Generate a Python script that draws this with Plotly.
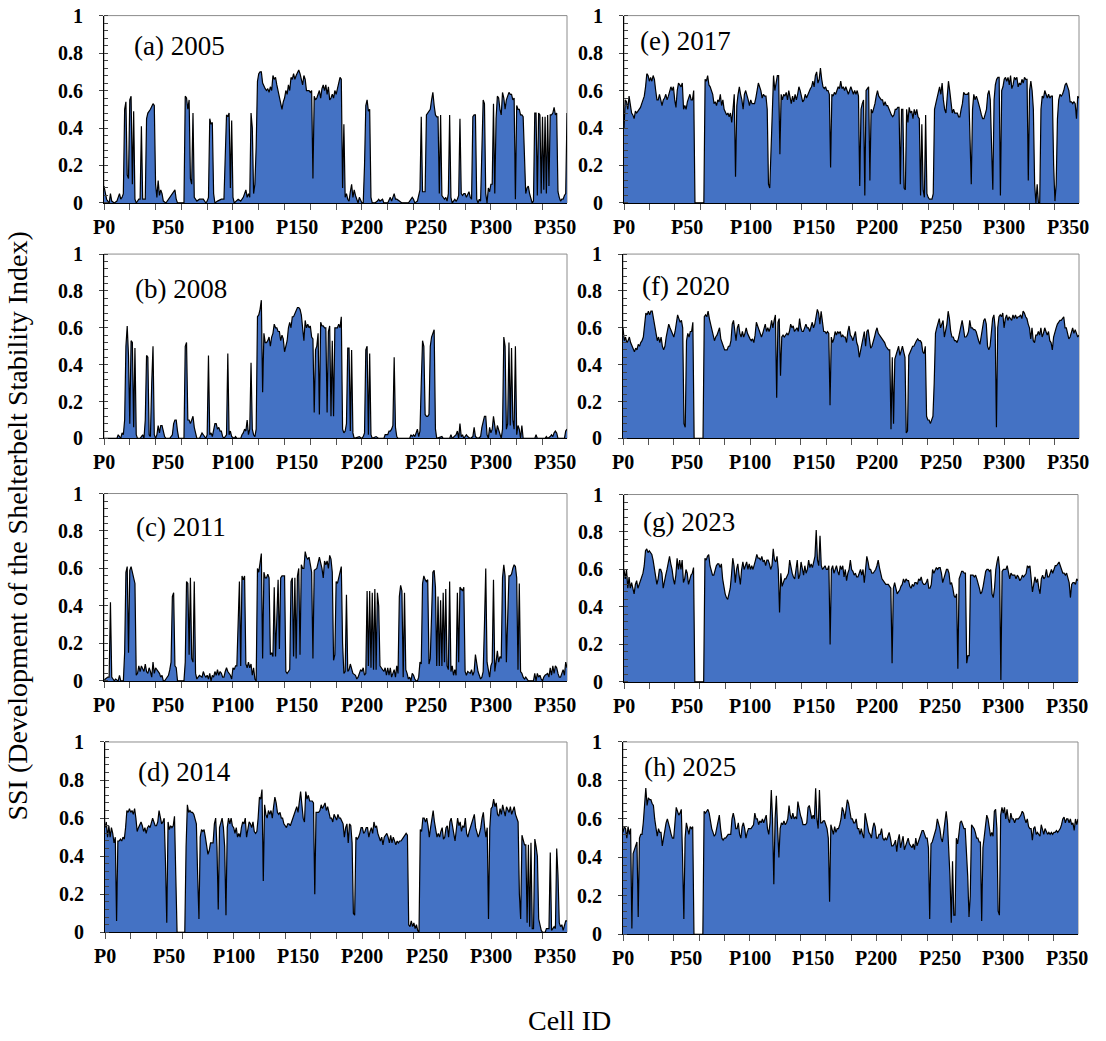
import plotly.graph_objects as go

# ---------------- data ----------------
cell_ids = list(range(360))
tick_cells = [0, 50, 100, 150, 200, 250, 300, 350]
tick_labels = ["P0", "P50", "P100", "P150", "P200", "P250", "P300", "P350"]
y_tickvals = [0, 0.2, 0.4, 0.6, 0.8, 1]
y_ticktext = ["0", "0.2", "0.4", "0.6", "0.8", "1"]
panel_labels = ["(a) 2005", "(b) 2008", "(c) 2011", "(d) 2014",
                "(e) 2017", "(f) 2020", "(g) 2023", "(h) 2025"]

# (cell, SSI) pairs for the sparse early years
ssi_2005 = [(0,.09),(1,.05),(2,.02),(4,0),(5,.05),(6,.01),(8,0),(10,.01),(12,.05),(13,.02),(14,.03),(15,.05),(16,.5),(17,.54),(18,.15),(19,.13),(20,.55),(21,.57),(22,.1),(23,.49),(24,.02),(25,0),(27,.02),(28,.02),(29,.41),(30,.02),(32,.02),(33,.45),(34,.48),(36,.5),(38,.53),(39,.52),(40,.1),(41,.03),(42,.12),(43,.04),(44,.07),(45,.05),(46,.01),(48,0),(51,.03),(53,.05),(55,.07),(56,.02),(57,0),(62,0),(63,.57),(64,.56),(65,.5),(66,.55),(67,.13),(68,.1),(69,.48),(70,.03),(72,.01),(74,.02),(77,.02),(79,0),(80,.01),(81,.03),(82,.45),(83,.42),(84,.43),(85,.05),(86,0),(88,.01),(91,.02),(93,.02),(94,.25),(95,.47),(96,.46),(97,.48),(98,.08),(99,.44),(100,.03),(101,0),(104,.02),(106,.01),(108,.03),(110,.07),(111,.03),(112,.05),(113,.03),(114,.48),(115,.4),(116,.05),(117,.1),(118,.3),
            (119,.65),(120,.69),(121,.7),(122,.7),(123,.64),(124,.62),(125,.61),(126,.6),(127,.61),(128,.59),(129,.62),(130,.6),(131,.68),(132,.66),(133,.67),(134,.63),(135,.6),(136,.56),(137,.54),(138,.5),(139,.54),(140,.56),(141,.6),(142,.58),(143,.63),(144,.6),(145,.67),(146,.66),(147,.69),(148,.66),(149,.68),(150,.7),(151,.71),(152,.69),
            (154,.63),(155,.68),(156,.66),(157,.6),(158,.6),(159,.6),(160,.59),(161,.6),(162,.13),(163,.57),(164,.55),(165,.56),(166,.58),(167,.6),(168,.56),(169,.61),(170,.63),(171,.6),(172,.63),(173,.58),(174,.62),(175,.55),(176,.56),(177,.58),(178,.56),(179,.6),(180,.58),(181,.62),(182,.64),(183,.67),(184,.66),(185,.08),(186,.42),(187,.03),
            (188,.05),(189,.02),(190,.01),(191,.06),(192,.1),(193,.03),(194,.07),(195,.04),(196,.02),(197,0),(198,.03),(199,.01),(200,0),(201,0),(202,.2),(203,.52),(204,.55),(205,.49),(206,.5),(207,.03),(208,0),(210,0),(212,.01),(213,.02),(214,.01),(216,.02),(217,0),(220,0),(221,.02),(222,.03),(223,.01),(224,.03),(225,.05),(226,.02),(227,.02),(229,.01),(231,0),(236,0),(238,.02),(239,.03),(240,.02),(241,0),(243,.01),(244,.04),(245,.07),(246,.46),(247,.06),(248,.06),(249,.06),(250,.47),(251,.48),(252,.49),(253,.5),(254,.55),(255,.59),(256,.52),(257,.47),(258,.46),(259,.46),(260,.05),(261,.47),(262,.04),(263,.03),(264,.02),(265,.03),(266,.01),(267,.05),(268,.47),(269,.03),(270,0),(271,.01),(272,.02),(273,.01),(274,.02),(275,.04),(276,.45),(277,.05),(278,.04),(279,.05),(280,.05),(281,.03),(282,.05),(283,.06),(284,.03),(285,.02),(286,.46),(287,.47),(288,.47),(289,.02),(290,0),(291,.02),(292,.01),(293,.3),(294,.55),(295,.53),(296,.05),(297,0),(298,.08),(299,.06),(300,.1),(301,.1),(302,.53),(303,.05),(304,.45),(305,.57),(306,.56),(307,.5),(308,.47),(309,.59),(310,.56),(311,.5),(312,.55),(313,.57),(314,.59),(315,.58),(316,.58),(317,.55),(318,.56),(319,.02),(320,.52),(321,.5),(322,.5),(323,.47),(324,.47),(325,.46),(326,.2),(327,.05),(328,.08),(329,.09),(330,.05),(331,.02),(332,0),(333,.01),(334,.48),(335,.48),(336,.04),(337,.48),(338,.47),(339,.05),(340,.46),(341,.07),(342,.46),(343,.05),(344,.47),(345,.09),(346,.47),(347,.47),(348,.48),(349,.51),(350,.47),(351,.48),(352,.06),(353,.03),(354,.01),(355,.02),(356,.02),(357,.04),(358,.05),(359,.48)]

ssi_2008 = [(0,0),(10,0),(11,.02),(12,.01),(13,0),(14,.03),(15,.02),(16,.1),(17,.5),(18,.61),(19,.45),(20,.08),(21,.53),(22,.52),(23,.06),(24,.49),(25,.02),(26,0),(28,0),(29,.01),(30,.02),(31,0),(32,.1),(33,.45),(34,.44),(35,.02),(36,.01),(37,.3),(38,.5),(39,.02),(40,0),(41,.02),(42,.07),(43,.03),(44,.07),(45,.07),(46,.04),(47,.01),(48,0),(51,0),(53,.02),(54,.08),(55,.1),(56,.1),(57,.04),(58,0),(62,0),(63,.5),(64,.52),(65,.1),(66,.1),(67,.08),(68,.1),(69,.12),(70,.06),(71,.02),(72,0),(74,0),(75,.02),(76,.03),(77,.02),(78,.01),(79,0),(80,.02),(81,.45),(82,.02),(83,.03),(84,.01),(85,.05),(86,.08),(87,.08),(88,.05),(89,.06),(90,.04),(91,.04),(92,.01),(93,0),(95,.02),(96,.46),(97,.02),(98,.04),(99,.01),(101,0),(102,.01),(103,0),(106,0),(107,.02),(108,.03),(109,.05),(110,.04),(111,.1),(112,.02),(113,.05),(114,.41),(115,.05),(116,.02),(117,.01),(118,.05),(119,.66),(120,.67),(121,.7),(122,.75),(123,.25),(124,.57),(125,.52),(126,.52),(127,.53),(128,.55),(129,.5),(130,.55),(131,.57),(132,.62),(133,.6),(134,.6),(135,.58),(136,.58),(137,.53),(138,.56),(139,.54),(140,.47),(141,.5),(142,.53),(143,.6),(144,.63),(145,.6),(146,.66),(147,.66),(148,.68),(149,.7),(150,.71),(151,.71),(152,.7),(153,.67),(154,.61),(155,.53),(156,.64),(157,.6),(158,.62),(159,.6),(160,.61),(161,.55),(162,.54),(163,.14),(164,.48),(165,.5),(166,.57),(167,.13),(168,.63),(169,.61),(170,.61),(171,.6),(172,.6),(173,.14),(174,.58),(175,.61),(176,.12),(177,.53),(178,.12),(179,.6),(180,.6),(181,.6),(182,.62),(183,.6),(184,.66),(185,.05),(186,.03),(187,.04),(188,.08),(189,.49),(190,.49),(191,.04),(192,.48),(193,.03),(194,0),(198,.01),(200,0),(201,.01),(202,.03),(203,.48),(204,.5),(205,.02),(206,.46),(207,.02),(208,0),(211,.01),(213,0),(217,0),(218,.02),(219,.02),(220,.02),(221,.04),(222,.04),(223,.05),(224,.07),(225,.44),(226,.06),(227,.01),(228,0),(237,0),(238,.02),(239,.01),(240,.02),(241,.01),(242,.03),(243,.05),(244,.01),(245,.04),(246,.3),(247,.53),(248,.5),(249,.13),(250,.12),(251,.12),(252,.13),(253,.5),(254,.55),(255,.57),(256,.59),(257,.05),(258,0),(262,.01),(263,0),(268,0),(269,.02),(270,0),(273,.02),(274,.04),(275,0),(276,.08),(277,.01),(278,.02),(279,0),(281,.02),(282,.01),(284,0),(286,.01),(287,.06),(288,.01),(290,0),(292,.01),(293,.06),(294,.1),(295,.12),(296,.12),(297,.02),(298,0),(299,.06),(300,.03),(301,.05),(302,.12),(303,.05),(304,.02),(305,.07),(306,.05),(307,.02),(308,0),(309,.05),(310,.55),(311,.5),(312,.05),(313,.08),(314,.52),(315,.07),(316,.49),(317,.1),(318,.05),(319,.5),(320,.02),(321,.07),(322,.05),(323,0),(324,.07),(325,0),(334,0),(335,.02),(336,0),(342,0),(343,.01),(344,0),(346,.01),(347,.02),(348,.01),(349,.03),(350,.04),(351,.03),(352,0),(357,0),(358,.04),(359,.05)]

ssi_2011 = [(0,0),(1,.01),(3,.02),(4,.02),(5,.42),(6,.02),(7,.01),(8,0),(9,.01),(11,0),(12,.03),(13,0),(15,0),(16,.15),(17,.58),(18,.61),(19,.15),(20,.59),(21,.61),(22,.58),(23,.55),(24,.52),(25,.03),(26,.04),(27,.08),(28,.05),(29,.08),(31,.05),(32,.09),(33,.05),(34,.04),(35,.07),(36,.05),(37,.02),(38,.1),(39,.04),(40,.07),(41,.06),(42,.05),(43,.04),(44,.02),(45,.03),(46,0),(47,0),(48,.01),(49,.02),(50,.03),(51,.06),(52,.1),(53,.45),(54,.47),(55,.08),(56,.07),(57,0),(62,0),(63,.1),(64,.53),(65,.52),(66,.14),(67,.55),(68,.12),(69,.1),(70,.53),(71,.04),(72,.01),(73,.02),(74,.03),
            (76,.02),(77,.05),(78,.03),(79,.02),(80,.03),(81,.01),(82,.04),(83,0),(84,.03),(85,.02),(86,.05),(87,.03),(88,.06),(89,.03),(90,.05),(91,.04),(92,.02),(93,.02),(94,.05),(95,.07),(96,.05),(97,.04),(98,.03),(99,.01),(100,.07),(101,.06),(102,.08),(103,.08),
            (105,.53),(106,.08),(107,.56),(108,.54),(109,.56),(110,.09),(111,.07),(112,.1),(113,.07),(114,.09),(115,.03),(116,.07),(117,.01),(118,0),(119,.6),(120,.58),(121,.65),(122,.68),(123,.12),(124,.58),(125,.55),(126,.55),(127,.57),(128,.55),(129,.14),(130,.15),(131,.13),(132,.5),(133,.13),
            (135,.54),(136,.17),(137,.55),(138,.56),(139,.56),(140,.56),(141,.05),(142,.04),(143,.05),(144,.06),(145,.53),(146,.55),(147,.13),(148,.55),(149,.12),(150,.56),(151,.6),(152,.14),(153,.62),(154,.6),(155,.6),(156,.69),(157,.66),(158,.65),(159,.66),(160,.61),(161,.58),(162,.12),(163,.59),
            (165,.6),(166,.63),(167,.66),(168,.63),(169,.6),(170,.55),(171,.64),(172,.62),(173,.64),(174,.6),(175,.67),(176,.65),(177,.58),(178,.11),(179,.14),(180,.53),(181,.52),(182,.55),(183,.58),(184,.61),(185,.2),(186,.04),(187,.05),(188,.46),(189,.05),(190,.06),(191,.09),(192,.07),(193,.04),
            (195,.03),(196,.01),(197,.02),(198,.04),(199,.06),(200,.05),(201,.07),(202,.03),(203,.04),(204,.48),(205,.08),(206,.48),(207,.07),(208,.47),(209,.06),(210,.49),(211,.06),(212,.47),(213,.4),(214,.08),(215,.07),(216,.06),(217,.05),(218,.07),(219,.03),(220,.07),(221,.03),(222,.07),(223,.02),
            (225,.06),(226,.02),(227,.08),(228,.04),(229,.45),(230,.51),(231,.48),(232,.02),(233,.47),(234,.06),(235,.04),(236,.01),(237,.02),(238,0),(239,.04),(240,.03),(241,.01),(242,0),(243,0),(244,.02),(245,.1),(246,.09),(247,.52),(248,.56),(249,.54),(250,.53),(251,.54),(252,.09),(253,.12),
            (255,.58),(256,.59),(257,.5),(258,.08),(259,.45),(260,.08),(261,.43),(262,.08),(263,.47),(264,.1),(265,.49),(266,.08),(267,.06),(268,.53),(269,.05),(270,.08),(271,.03),(272,.06),(273,.03),(274,.47),(275,.1),(276,.5),(277,.49),(278,.48),(279,.5),(280,.05),(281,.03),(282,.05),
            (284,.04),(285,.06),(286,.03),(287,.05),(288,.14),(289,.08),(290,.05),(291,.03),(292,.01),(293,.02),(294,.05),(295,.3),(296,.6),(297,.1),(298,.05),(299,.02),(300,.08),(301,.1),(302,.54),(303,.05),(304,.1),(305,.16),(306,.1),(307,.13),(308,.12),(309,.55),(310,.62),(311,.56),(312,.1),
            (314,.56),(315,.56),(316,.57),(317,.6),(318,.62),(319,.61),(320,.55),(321,.06),(322,.52),(323,.05),(324,.04),(325,.02),(326,.01),(327,.02),(328,.01),(329,0),(333,0),(334,.04),(335,0),(336,.04),(337,.02),(338,.03),(339,.01),(340,0),(341,.02),(342,.03),
            (344,.04),(345,.02),(346,.07),(347,.03),(348,.08),(349,.04),(350,.08),(351,.07),(352,.04),(353,.02),(354,.02),(355,.04),(356,.06),(357,.03),(358,.1),(359,.07)]

# one value per cell P0..P359 for the later years
ssi_2014 = [
 .55,.58,.5,.56,.5,.55,.52,.47,.5,.06,
 .48,.48,.49,.48,.5,.49,.55,.64,.63,.65,
 .63,.64,.62,.65,.6,.53,.55,.57,.58,.56,
 .53,.55,.52,.55,.56,.55,.58,.6,.58,.56,
 .56,.58,.64,.6,.57,.58,.6,.37,.05,.58,
 .54,.56,.55,.56,.61,.3,0,0,0,0,
 0,0,0,.45,.67,.63,.64,.63,.63,.62,
 .6,.57,.3,.07,.5,.54,.53,.54,.5,.45,
 .41,.43,.47,.47,.47,.57,.6,.45,.12,.55,
 .58,.6,.55,.45,.09,.55,.6,.57,.6,.56,
 .55,.52,.55,.5,.52,.5,.55,.58,.57,.6,
 .5,.55,.58,.57,.55,.58,.53,.52,.53,.6,
 .71,.7,.75,.27,.67,.62,.6,.64,.62,.64,
 .6,.66,.71,.68,.63,.62,.63,.6,.6,.57,
 .56,.55,.57,.57,.56,.58,.6,.62,.64,.66,
 .63,.68,.74,.67,.6,.58,.74,.7,.72,.69,
 .69,.69,.68,.2,.63,.63,.63,.64,.67,.65,
 .67,.68,.64,.66,.63,.6,.6,.58,.62,.6,
 .59,.62,.6,.6,.58,.57,.5,.55,.57,.47,
 .57,.56,.47,.1,.09,.5,.49,.5,.52,.55,
 .55,.52,.53,.55,.55,.5,.53,.55,.52,.58,
 .55,.56,.52,.5,.48,.5,.46,.5,.51,.52,
 .5,.47,.51,.47,.5,.48,.46,.48,.47,.48,
 .48,.49,.5,.51,.52,.51,.04,.03,.06,.03,
 .05,.02,.04,.01,0,.54,.53,.6,.6,.58,
 .6,.56,.5,.55,.6,.64,.58,.53,.5,.52,
 .5,.53,.55,.49,.5,.55,.56,.5,.58,.6,
 .55,.52,.48,.55,.6,.56,.58,.53,.56,.55,
 .6,.52,.5,.53,.55,.58,.6,.62,.55,.53,
 .5,.52,.55,.6,.63,.55,.5,.55,.07,.55,
 .65,.66,.7,.66,.68,.62,.61,.65,.62,.67,
 .63,.61,.66,.64,.63,.66,.62,.64,.66,.62,
 .6,.58,.2,.07,.51,.48,.46,.46,.05,.46,
 .03,.47,.02,.02,.49,.45,.4,.07,.04,.01,
 0,0,0,.02,.02,.02,.42,.01,.02,.03,
 .02,.44,.3,.05,.03,.04,.01,.03,.06,.06]

ssi_2017 = [
 .4,.55,.54,.5,.57,.53,.48,.47,.45,.49,
 .48,.49,.5,.51,.53,.55,.57,.62,.69,.68,
 .65,.67,.65,.68,.66,.6,.55,.55,.58,.55,
 .52,.55,.56,.58,.55,.57,.6,.62,.6,.62,
 .55,.51,.6,.64,.63,.62,.64,.5,.52,.5,
 .54,.56,.58,.55,.55,.6,0,0,0,0,
 0,0,0,0,.66,.65,.68,.63,.62,.6,
 .58,.53,.54,.52,.55,.54,.58,.52,.55,.5,
 .48,.47,.48,.46,.48,.43,.5,.58,.14,.52,
 .58,.62,.58,.55,.5,.58,.6,.58,.55,.52,
 .55,.53,.53,.53,.56,.6,.64,.62,.6,.56,
 .58,.57,.57,.5,.1,.08,.3,.59,.68,.6,
 .64,.68,.68,.26,.58,.55,.58,.57,.59,.55,
 .6,.57,.53,.57,.54,.58,.55,.58,.62,.6,
 .56,.54,.55,.58,.56,.58,.6,.61,.62,.65,
 .62,.68,.7,.64,.66,.72,.66,.62,.61,.62,
 .6,.6,.58,.19,.58,.57,.59,.58,.6,.62,
 .61,.65,.61,.62,.6,.62,.6,.58,.6,.62,
 .6,.58,.6,.58,.6,.57,.09,.5,.53,.55,
 .04,.6,.61,.62,.12,.5,.48,.5,.53,.57,
 .6,.57,.56,.55,.55,.52,.54,.52,.52,.5,
 .48,.47,.46,.47,.5,.5,.51,.51,.1,.5,
 .5,.08,.07,.5,.43,.51,.48,.49,.45,.5,
 .47,.5,.46,.45,.04,.42,.07,.03,.47,.05,
 .03,.02,.02,.02,.05,.5,.53,.56,.6,.62,
 .58,.64,.55,.5,.48,.56,.65,.6,.52,.48,
 .5,.48,.48,.48,.46,.46,.5,.53,.59,.58,
 .58,.58,.59,.3,.1,.5,.58,.55,.57,.55,
 .53,.5,.47,.45,.45,.47,.5,.58,.6,.55,
 .3,.07,.55,.63,.66,.67,.67,.04,.6,.62,
 .66,.67,.65,.67,.63,.68,.61,.63,.67,.66,
 .67,.62,.64,.63,.66,.64,.67,.66,.66,.12,
 .6,.65,.6,.5,.1,0,.1,0,0,.5,
 .57,.56,.6,.58,.56,.58,.56,.57,.57,.2,
 .01,.1,.45,.55,.58,.57,.58,.6,.63,.64,
 .62,.6,.54,.54,.53,.54,.53,.45,.57,.56]

ssi_2020 = [
 .6,.53,.55,.52,.53,.55,.52,.5,.48,.47,
 .49,.48,.51,.5,.52,.53,.55,.62,.68,.67,
 .69,.67,.69,.69,.65,.6,.57,.53,.55,.52,
 .55,.5,.48,.5,.55,.58,.62,.6,.58,.56,
 .55,.58,.62,.67,.65,.63,.64,.6,.08,.06,
 .53,.57,.55,.58,.58,.63,0,0,0,0,
 0,0,0,0,.66,.67,.66,.69,.65,.62,
 .6,.56,.53,.55,.56,.58,.6,.54,.52,.5,
 .48,.48,.48,.5,.5,.53,.62,.64,.57,.53,
 .6,.62,.57,.55,.58,.55,.57,.6,.57,.55,
 .54,.53,.54,.52,.56,.63,.61,.6,.58,.55,
 .57,.6,.62,.58,.6,.58,.6,.64,.6,.64,
 .67,.22,.63,.65,.34,.55,.56,.55,.56,.57,
 .56,.58,.62,.6,.61,.58,.59,.6,.58,.65,
 .6,.58,.58,.6,.62,.6,.6,.58,.6,.63,
 .6,.62,.66,.7,.68,.62,.69,.62,.58,.58,
 .57,.58,.57,.18,.55,.52,.54,.58,.56,.58,
 .57,.58,.55,.56,.55,.55,.52,.58,.61,.56,
 .55,.53,.55,.58,.52,.5,.44,.48,.52,.55,
 .58,.5,.58,.59,.52,.49,.5,.52,.55,.58,
 .6,.57,.56,.55,.54,.53,.52,.5,.49,.48,
 .48,.05,.44,.08,.43,.45,.47,.5,.45,.48,
 .5,.47,.44,.03,.04,.45,.47,.48,.5,.5,
 .52,.53,.54,.53,.53,.52,.47,.46,.5,.12,
 .1,.1,.08,.1,.12,.3,.57,.6,.63,.65,
 .6,.62,.64,.55,.58,.62,.69,.65,.58,.55,
 .55,.53,.53,.52,.54,.58,.62,.64,.6,.55,
 .55,.56,.58,.64,.6,.6,.59,.59,.58,.55,
 .53,.51,.55,.6,.64,.65,.62,.5,.48,.5,
 .6,.65,.67,.6,.06,.6,.66,.67,.66,.68,
 .6,.65,.67,.64,.66,.65,.64,.67,.65,.67,
 .65,.66,.66,.67,.65,.69,.68,.66,.65,.62,
 .6,.54,.6,.53,.52,.56,.56,.58,.56,.6,
 .55,.57,.6,.58,.56,.58,.53,.52,.48,.55,
 .58,.6,.62,.63,.64,.64,.65,.66,.6,.6,
 .57,.54,.55,.58,.6,.57,.59,.57,.55,.56]

ssi_2023 = [
 .6,.55,.6,.5,.56,.5,.53,.5,.47,.52,
 .54,.5,.52,.53,.55,.58,.62,.7,.71,.69,
 .7,.69,.68,.65,.6,.57,.52,.55,.6,.6,
 .58,.5,.55,.57,.6,.63,.67,.63,.6,.55,
 .52,.57,.66,.6,.65,.6,.65,.53,.55,.6,
 .58,.52,.55,.57,.58,.61,0,0,0,0,
 0,0,0,0,.66,.65,.67,.68,.62,.6,
 .57,.57,.6,.62,.63,.63,.61,.63,.55,.5,
 .47,.45,.44,.47,.5,.57,.66,.62,.53,.6,
 .63,.57,.52,.6,.64,.6,.62,.64,.6,.63,
 .6,.62,.6,.62,.65,.68,.66,.66,.65,.67,
 .64,.65,.62,.65,.65,.63,.6,.62,.71,.65,
 .64,.67,.6,.37,.58,.51,.53,.55,.55,.57,
 .58,.65,.6,.58,.56,.55,.6,.65,.55,.57,
 .64,.6,.57,.62,.58,.6,.65,.61,.63,.61,
 .64,.67,.81,.65,.62,.78,.62,.6,.61,.62,
 .6,.6,.62,.2,.6,.62,.58,.6,.62,.59,
 .57,.62,.6,.62,.56,.6,.54,.58,.6,.65,
 .6,.59,.57,.58,.56,.56,.58,.6,.57,.6,
 .53,.62,.67,.64,.6,.6,.58,.58,.59,.6,
 .62,.65,.61,.58,.55,.54,.53,.52,.52,.52,
 .51,.5,.1,.5,.53,.5,.47,.48,.49,.51,
 .52,.55,.53,.55,.54,.54,.51,.5,.52,.51,
 .53,.53,.52,.55,.54,.56,.53,.52,.52,.53,
 .55,.5,.5,.52,.6,.58,.6,.61,.6,.61,
 .61,.58,.53,.55,.57,.6,.6,.58,.52,.53,
 .5,.46,.45,.47,.07,.55,.57,.59,.59,.58,
 .58,.1,.14,.14,.57,.57,.57,.56,.57,.55,
 .53,.5,.47,.48,.51,.55,.59,.6,.6,.59,
 .6,.47,.45,.5,.6,.64,.67,.6,.01,.59,
 .6,.6,.6,.62,.58,.55,.58,.57,.57,.57,
 .55,.57,.56,.54,.55,.57,.56,.57,.58,.62,
 .61,.62,.55,.48,.52,.56,.53,.55,.5,.47,
 .55,.57,.55,.56,.6,.56,.56,.58,.6,.58,
 .6,.62,.62,.63,.64,.62,.6,.58,.58,.57,
 .58,.55,.53,.45,.52,.53,.53,.52,.55,.54]

ssi_2025 = [
 .53,.56,.55,.5,.56,.52,.55,.03,.42,.44,
 .47,.48,.09,.5,.52,.52,.58,.7,.76,.67,
 .71,.7,.7,.68,.67,.6,.55,.51,.55,.53,
 .53,.46,.5,.55,.58,.6,.58,.55,.52,.5,
 .5,.57,.66,.64,.62,.63,.65,.4,.08,.5,
 .58,.55,.52,.56,.55,.56,0,0,0,0,
 0,0,0,0,.64,.63,.64,.65,.63,.58,
 .55,.53,.51,.52,.56,.59,.62,.55,.5,.49,
 .5,.5,.51,.52,.52,.52,.6,.63,.6,.55,
 .55,.58,.52,.5,.56,.58,.55,.5,.53,.55,
 .55,.55,.56,.57,.63,.6,.6,.57,.59,.58,
 .6,.58,.6,.62,.55,.52,.58,.75,.6,.26,
 .6,.72,.55,.4,.55,.58,.57,.59,.57,.58,
 .6,.67,.62,.6,.63,.6,.61,.6,.69,.65,
 .62,.6,.57,.57,.57,.58,.66,.67,.63,.6,
 .62,.6,.76,.6,.55,.75,.58,.58,.59,.59,
 .57,.55,.5,.17,.57,.55,.52,.56,.53,.55,
 .55,.57,.6,.66,.64,.6,.67,.7,.68,.63,
 .6,.6,.58,.58,.6,.55,.55,.52,.55,.52,
 .5,.63,.6,.57,.53,.52,.5,.55,.58,.56,
 .5,.5,.52,.52,.55,.5,.49,.5,.49,.51,
 .53,.5,.46,.46,.47,.49,.43,.49,.52,.45,
 .48,.51,.44,.46,.49,.5,.47,.46,.45,.47,
 .44,.5,.46,.48,.5,.52,.54,.54,.52,.5,
 .5,.45,.08,.47,.48,.5,.52,.55,.6,.58,
 .55,.5,.48,.53,.6,.64,.58,.45,.3,.06,
 .38,.1,.1,.5,.47,.52,.58,.59,.57,.55,
 .55,.45,.3,.09,.2,.57,.56,.55,.53,.5,
 .5,.48,.48,.07,.45,.52,.58,.62,.6,.55,
 .51,.53,.51,.64,.65,.55,.12,.1,.62,.66,
 .63,.66,.6,.65,.6,.58,.63,.6,.6,.58,
 .6,.6,.6,.61,.62,.64,.63,.6,.58,.6,
 .56,.55,.55,.49,.55,.56,.52,.53,.52,.51,
 .57,.54,.52,.55,.53,.52,.53,.52,.53,.52,
 .53,.53,.54,.53,.54,.55,.57,.6,.61,.58,
 .6,.6,.58,.6,.57,.58,.54,.6,.57,.6]

# ---------------- layout helpers (pixel geometry of the reference) ----------------
W, H = 1106, 1041
FILL = "#4472C4"
SERIF = "Liberation Serif"

# the captured page is vertically scaled/offset by the viewer; map reference rows to figure rows
def fig_row(y_ref):
    return (y_ref - 12.4) / 0.977

def paper_y(y_ref):
    return 1 - fig_row(y_ref) / H

def pairs(p):
    return [c for c, _ in p], [v for _, v in p]

series = [
    pairs(ssi_2005), pairs(ssi_2008), pairs(ssi_2011), (cell_ids, ssi_2014),
    (cell_ids, ssi_2017), (cell_ids, ssi_2020), (cell_ids, ssi_2023), (cell_ids, ssi_2025),
]
# plot rectangles as seen in the reference: left, top, right, bottom (px)
rects = [(104, 17, 567, 204), (104, 255, 567, 439), (104, 494, 567, 681), (105, 742, 567, 932),
         (624, 17, 1079, 204), (623, 255, 1079, 439), (624, 495, 1078, 682), (623, 742, 1078, 934)]
label_off = [(28, 30), (29, 35), (30, 33), (31, 30), (14, 25), (17, 32), (17, 27), (19, 25)]

fig = go.Figure()
annotations = []
shapes = []
layout = {}
for i, ((xs, ys), (l, t, r, b), lab, (ox, oy)) in enumerate(zip(series, rects, panel_labels, label_off), start=1):
    sfx = "" if i == 1 else str(i)
    xa, ya = "x" + sfx, "y" + sfx
    fig.add_trace(go.Scatter(
        x=xs, y=ys, mode="lines", fill="tozeroy", fillcolor=FILL,
        line=dict(color="black", width=1.2), xaxis=xa, yaxis=ya,
        hoverinfo="x+y", showlegend=False))
    layout["xaxis" + sfx] = dict(
        domain=[l / W, r / W], anchor=ya, range=[0, 359],
        showline=True, linecolor="black", linewidth=1,
        ticks="outside", tickmode="linear", tick0=0, dtick=20, ticklen=6,
        tickcolor="#555", tickwidth=1, showticklabels=False,
        showgrid=False, zeroline=False)
    layout["yaxis" + sfx] = dict(
        domain=[paper_y(b), paper_y(t)], anchor=xa, range=[0, 1],
        showline=True, linecolor="black", linewidth=1,
        tickmode="array", tickvals=y_tickvals, ticktext=y_ticktext,
        ticks="outside", ticklen=4, tickcolor="#444", tickwidth=1,
        ticklabelstandoff=12,
        tickfont=dict(family=SERIF, size=20, color="black", weight="bold"),
        minor=dict(ticks="inside", tickmode="linear", tick0=0, dtick=0.04,
                   ticklen=4, tickcolor="#444", showgrid=False),
        showgrid=False, zeroline=False)
    shapes.append(dict(type="rect", xref=xa + " domain", yref=ya + " domain",
                       x0=0, x1=1, y0=0, y1=1, layer="below",
                       line=dict(color="#8c8c8c", width=1)))
    annotations.append(dict(
        text=lab, xref=xa + " domain", yref="paper",
        x=ox / (r - l), y=paper_y(t + oy), xanchor="left", yanchor="middle",
        showarrow=False, font=dict(family=SERIF, size=27, color="black")))
    for c, tl in zip(tick_cells, tick_labels):
        annotations.append(dict(
            text=tl, xref=xa, x=c, yref="paper", y=paper_y(b + 24),
            xanchor="center", yanchor="middle", showarrow=False,
            font=dict(family=SERIF, size=20, color="black", weight="bold")))

annotations.append(dict(
    text="SSI (Development of the Shelterbelt Stability Index)",
    xref="paper", yref="paper", x=18 / W, y=paper_y(527), textangle=-90,
    xanchor="center", yanchor="middle", showarrow=False,
    font=dict(family=SERIF, size=28, color="black")))
annotations.append(dict(
    text="Cell ID", xref="paper", yref="paper", x=569 / W, y=paper_y(1020),
    xanchor="center", yanchor="middle", showarrow=False,
    font=dict(family=SERIF, size=28, color="black")))

fig.update_layout(
    width=W, height=H, margin=dict(l=0, r=0, t=0, b=0),
    paper_bgcolor="white", plot_bgcolor="white", showlegend=False,
    annotations=annotations, shapes=shapes, **layout)

# let the figure occupy the page exactly (no default body margin), no modebar
fig.write_html("out.html", config={"displayModeBar": False},
               post_script="document.body.style.margin='0';document.body.style.overflow='hidden';")
